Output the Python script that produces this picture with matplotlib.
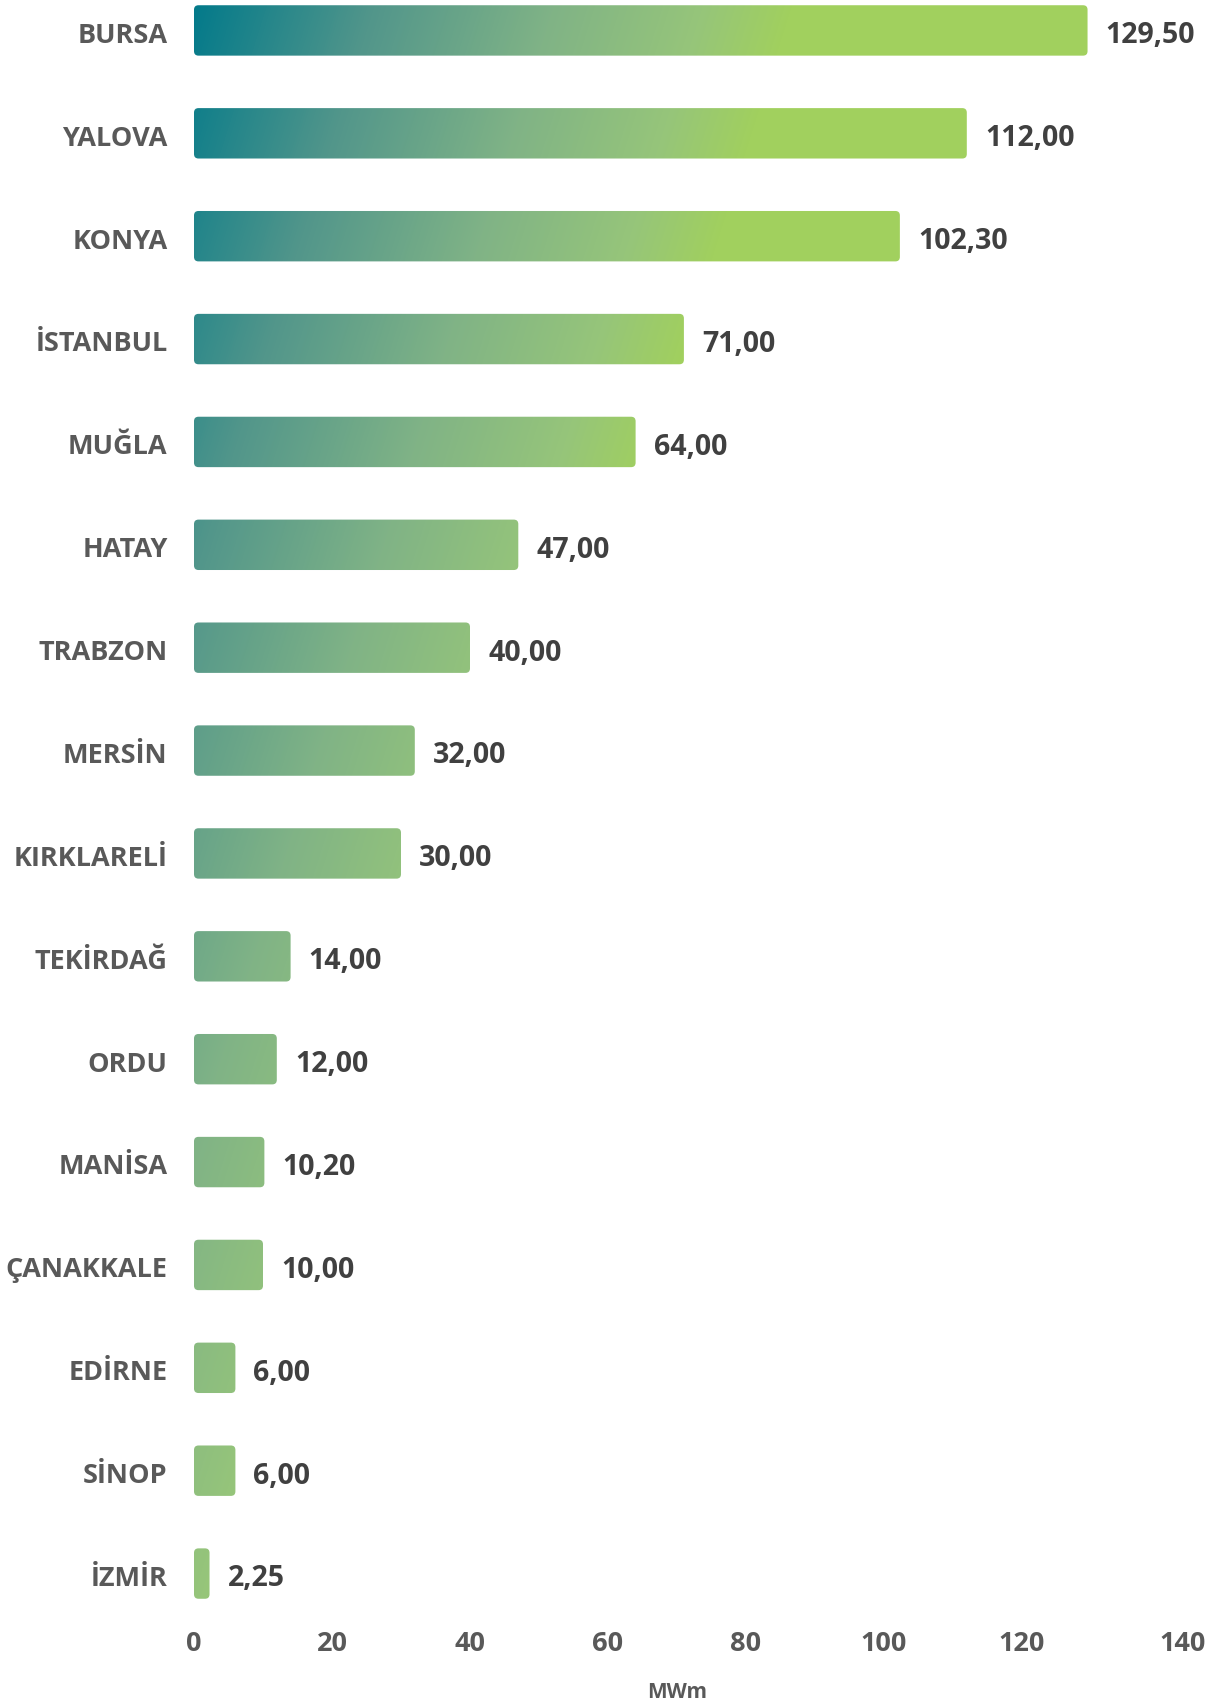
import numpy as np
import matplotlib
matplotlib.use("Agg")
import matplotlib.pyplot as plt
from matplotlib.colors import LinearSegmentedColormap
from matplotlib.patches import FancyBboxPatch

plt.rcParams['font.family'] = ['Open Sans', 'DejaVu Sans']

cities = ['BURSA', 'YALOVA', 'KONYA', 'İSTANBUL', 'MUĞLA', 'HATAY', 'TRABZON',
          'MERSİN', 'KIRKLARELİ', 'TEKİRDAĞ', 'ORDU', 'MANİSA', 'ÇANAKKALE',
          'EDİRNE', 'SİNOP', 'İZMİR']
values = [129.50, 112.00, 102.30, 71.00, 64.00, 47.00, 40.00,
          32.00, 30.00, 14.00, 12.00, 10.20, 10.00, 6.00, 6.00, 2.25]
xticks = [0, 20, 40, 60, 80, 100, 120, 140]

W, H = 1217, 1702
fig = plt.figure(figsize=(W / 100, H / 100), dpi=100)
ax_left, ax_right, ax_top, ax_bottom = 194, 1160, -21, 1625
ax = fig.add_axes([ax_left / W, 1 - ax_bottom / H,
                   (ax_right - ax_left) / W, (ax_bottom - ax_top) / H])

n = len(cities)
ypos = np.arange(n)
xmax = 140
ax.set_xlim(0, xmax)
ax.set_ylim(n - 0.5, -0.5)

# gradient teal -> green, runs diagonally over the plot area
cmap = LinearSegmentedColormap.from_list('tg', [
    (0.0, '#037a8a'), (0.3, '#52968b'), (0.6, '#80b386'),
    (0.85, '#96c57a'), (1.0, '#a1d05e')])
pw, ph = ax_right - ax_left, ax_bottom - ax_top
gx, gy = np.meshgrid(np.arange(pw), np.arange(ph))
t = np.clip(gx / 600 + (gy - 26) / 1900, 0, 1)

bars = ax.barh(ypos, values, height=0.49, color='none', edgecolor='none')

xpp = xmax / pw   # data x per pixel
ypp = n / ph      # data y per pixel
for rect in bars:
    x0, y0 = rect.get_x(), rect.get_y()
    w, h = rect.get_width(), rect.get_height()
    rs = min(4.5 * xpp, w / 2)
    patch = FancyBboxPatch((x0, y0), w, h,
                           boxstyle=f"round,pad=0,rounding_size={rs}",
                           mutation_aspect=ypp / xpp,
                           facecolor='none', edgecolor='none')
    ax.add_patch(patch)
    im = ax.imshow(t, cmap=cmap, vmin=0, vmax=1, aspect='auto',
                   extent=(0, xmax, n - 0.5, -0.5), origin='upper',
                   interpolation='bilinear')
    im.set_clip_path(patch)

dy = -3.9  # points, to line the caps up with the bar centres
for i, v in enumerate(values):
    ax.annotate(f"{v:.2f}".replace('.', ','), xy=(v, i), xytext=(13, dy),
                textcoords='offset points', va='center', ha='left',
                fontsize=20.5, fontweight='bold', color='#404040')

# category labels
for i, c in enumerate(cities):
    ax.annotate(c, xy=(0, i), xytext=(-19, dy), textcoords='offset points',
                va='center', ha='right', fontsize=19.5, fontweight='bold',
                color='#595959', annotation_clip=False)

# x tick labels (the last one sits a bit further right in the original)
for xt in xticks:
    dx = 16 if xt == 140 else 0
    ax.annotate(str(xt), xy=(xt, 0), xycoords=('data', 'axes fraction'),
                xytext=(dx, -13.8), textcoords='offset points',
                va='center', ha='center', fontsize=19.5, fontweight='bold',
                color='#595959', annotation_clip=False)

ax.annotate('MWm', xy=(0.5, 0), xycoords='axes fraction', xytext=(0, -48.5),
            textcoords='offset points', va='center', ha='center',
            fontsize=15, fontweight='bold', color='#595959')

ax.set_xlim(0, xmax)
ax.set_ylim(n - 0.5, -0.5)
ax.set_xticks([])
ax.set_yticks([])
for s in ax.spines.values():
    s.set_visible(False)

fig.savefig('out.png', dpi=100)
